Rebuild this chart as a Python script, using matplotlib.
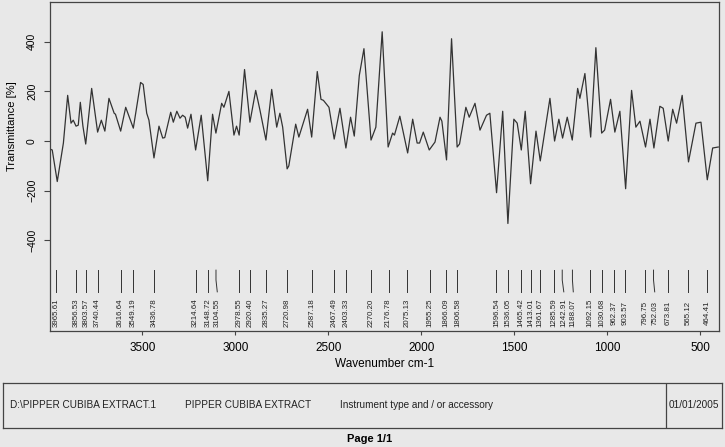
import numpy as np
import matplotlib
matplotlib.use('Agg')
import matplotlib.pyplot as plt
import matplotlib.transforms as mtransforms

#####################
# DATA
#####################
wavenumber = [3997, 3985, 3958, 3925, 3902, 3884, 3872, 3857, 3845, 3834, 3820, 3805,
              3773, 3741, 3721, 3702, 3680, 3652, 3645, 3617, 3590, 3549, 3510, 3496,
              3477, 3465, 3438, 3411, 3391, 3380, 3348, 3334, 3315, 3298, 3284, 3270,
              3257, 3239, 3214, 3184, 3149, 3123, 3105, 3074, 3062, 3035, 3008, 2994,
              2980, 2951, 2922, 2891, 2868, 2836, 2805, 2778, 2761, 2746, 2722, 2713,
              2676, 2659, 2612, 2590, 2560, 2540, 2527, 2497, 2469, 2438, 2406, 2381,
              2361, 2334, 2309, 2271, 2245, 2211, 2179, 2155, 2145, 2116, 2074, 2047,
              2023, 2010, 1990, 1958, 1927, 1900, 1890, 1865, 1838, 1808, 1795, 1761,
              1743, 1712, 1685, 1650, 1632, 1596, 1563, 1535, 1503, 1485, 1463, 1442,
              1413, 1384, 1361, 1309, 1284, 1261, 1241, 1216, 1189, 1160, 1148, 1121,
              1090, 1062, 1031, 1015, 983, 960, 933, 902, 870, 847, 825, 795,
              771, 750, 718, 700, 673, 649, 628, 598, 564, 524, 497, 463,
              434, 404]
transmittance = [-32, -36, -163, -8, 184, 72, 84, 60, 64, 156, 60, -12,
                 212, 36, 84, 40, 172, 112, 108, 40, 136, 52, 236, 228,
                 112, 84, -68, 60, 12, 14, 116, 76, 120, 92, 104, 96,
                 52, 108, -36, 104, -160, 108, 32, 152, 136, 200, 24, 60,
                 24, 288, 76, 204, 124, 4, 208, 56, 112, 56, -112, -100,
                 68, 16, 128, 16, 280, 168, 164, 136, 8, 132, -28, 96,
                 20, 264, 372, 4, 56, 440, -24, 32, 24, 100, -48, 88,
                 -8, -8, 36, -36, -4, 96, 80, -76, 412, -24, -12, 136,
                 96, 152, 44, 104, 112, -208, 120, -332, 88, 72, -36, 120,
                 -172, 40, -80, 172, 0, 88, 12, 96, 4, 212, 172, 272,
                 16, 376, 32, 44, 168, 36, 120, -192, 204, 56, 80, -24,
                 88, -28, 140, 132, 0, 128, 72, 184, -84, 72, 76, -156,
                 -28, -24]

peak_labels = ['3965.61', '3856.53', '3803.57', '3740.44', '3616.64', '3549.19',
               '3436.78', '3214.64', '3148.72', '3104.55', '2978.55', '2920.40',
               '2835.27', '2720.98', '2587.18', '2467.49', '2403.33', '2270.20',
               '2176.78', '2075.13', '1955.25', '1866.09', '1806.58', '1596.54',
               '1536.05', '1465.42', '1413.01', '1361.67', '1285.59', '1242.91',
               '1188.07', '1092.15', '1030.68', '962.37', '903.57', '796.75',
               '752.03', '673.81', '565.12', '464.41']

x_ticks = [3500, 3000, 2500, 2000, 1500, 1000, 500]
y_ticks = [-400, -200, 0, 200, 400]

footer_texts = ['D:\\PIPPER CUBIBA EXTRACT.1', 'PIPPER CUBIBA EXTRACT',
                'Instrument type and / or accessory']
footer_date = '01/01/2005'

bg = '#e8e8e8'
ink = '#333333'
W, H = 725, 447

plt.rcParams['font.family'] = ['Liberation Sans', 'DejaVu Sans']

fig = plt.figure(figsize=(W / 100, H / 100), dpi=100, facecolor=bg)
ax = fig.add_axes([50 / W, 1 - 331 / H, 669 / W, 329 / H], facecolor=bg)

ax.plot(wavenumber, transmittance, color=ink, lw=0.9)
ax.set_xlim(3997, 400)
ax.set_ylim(-765, 560)

ax.set_xticks(x_ticks)
ax.set_yticks(y_ticks)
ax.tick_params(axis='x', length=3.2, width=0.8, color='#444444', labelsize=8.5, pad=4.5)
ax.tick_params(axis='y', length=4.3, width=0.8, color='#444444', labelsize=7.5, pad=5,
               labelrotation=90)
for lab in ax.get_yticklabels():
    lab.set_va('center')
for sp in ax.spines.values():
    sp.set_color('#444444')
    sp.set_linewidth(0.9)
ax.set_xlabel('Wavenumber cm-1', fontsize=8.5, labelpad=3)
fig.text(12 / W, 1 - 126 / H, 'Transmittance [%]', rotation=90, fontsize=8,
         ha='center', va='center')

# peak markers: line down from the top, label pushed right if too close
trans = mtransforms.blended_transform_factory(ax.transData, ax.transAxes)
peak_pos = [float(p) for p in peak_labels]
fig.canvas.draw()
px = [ax.transData.transform((p, 0))[0] for p in peak_pos]
lab_px = []
for p in px:
    if lab_px and p - lab_px[-1] < 9.5:
        lab_px.append(lab_px[-1] + 9.5)
    else:
        lab_px.append(p)
inv = ax.transData.inverted()
for p, lp, txt in zip(peak_pos, lab_px, peak_labels):
    lx = inv.transform((lp, 0))[0]
    ax.plot([p, p, lx], [0.185, 0.155, 0.119], color=ink, lw=0.7, transform=trans,
            clip_on=False)
    ax.text(lx, 0.056, txt, rotation=90, fontsize=5.7, ha='center', va='center',
            transform=trans, color='#222222')

# footer box
fax = fig.add_axes([3 / W, 1 - 428 / H, 719 / W, 45 / H], facecolor=bg)
fax.set_xticks([])
fax.set_yticks([])
for sp in fax.spines.values():
    sp.set_color('#444444')
    sp.set_linewidth(0.9)
fax.axvline((666 - 3) / 719, color='#444444', lw=0.9)
for xpos, txt in zip([(10 - 3) / 719, (185 - 3) / 719, (340 - 3) / 719], footer_texts):
    fax.text(xpos, 0.5, txt, fontsize=7.2, ha='left', va='center', color='#222222')
fax.text((694 - 3) / 719, 0.5, footer_date, fontsize=7.2, ha='center', va='center',
         color='#222222')

fig.text(370 / W, 1 - 439 / H, 'Page 1/1', fontsize=8, fontweight='bold',
         ha='center', va='center')

fig.savefig('out.png', dpi=100, facecolor=bg)
